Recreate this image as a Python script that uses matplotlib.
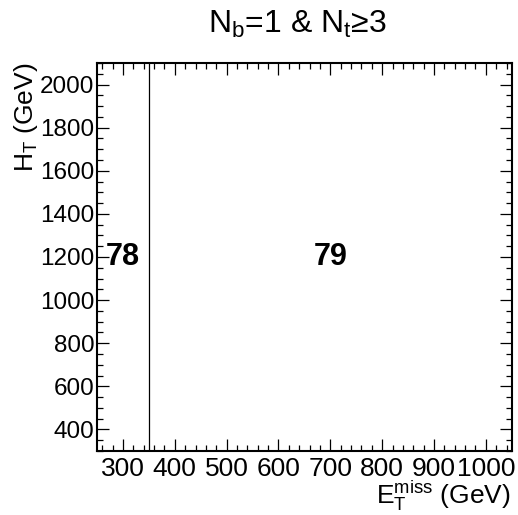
import numpy as np
import matplotlib.pyplot as plt
from matplotlib.ticker import MultipleLocator

# Bin layout for this search region
met_edges = [250, 350, 1050]   # E_T^miss bin edges (GeV)
ht_range = [300, 2100]         # H_T range (GeV)
bin_labels = ['78', '79']

plt.rcParams['font.family'] = ['Liberation Sans', 'DejaVu Sans']
plt.rcParams['mathtext.fontset'] = 'custom'
plt.rcParams['mathtext.rm'] = 'Liberation Sans'
plt.rcParams['mathtext.it'] = 'Liberation Sans:italic'
plt.rcParams['mathtext.bf'] = 'Liberation Sans:bold'


def main():
    fig = plt.figure(figsize=(5.18, 5.15), dpi=100)
    ax = fig.add_axes([0.1873, 0.1243, 0.8007, 0.7534])

    ax.set_xlim(met_edges[0], met_edges[-1])
    ax.set_ylim(ht_range[0], ht_range[1])

    # inner bin boundaries
    for edge in met_edges[1:-1]:
        ax.axvline(edge, color='black', lw=0.9)

    # bin numbers at bin centres
    yc = 0.5 * (ht_range[0] + ht_range[1])
    for lo, hi, lab in zip(met_edges[:-1], met_edges[1:], bin_labels):
        ax.text(0.5 * (lo + hi), yc, lab, ha='center', va='center',
                fontsize=22, fontweight='bold')

    ax.xaxis.set_major_locator(MultipleLocator(100))
    ax.xaxis.set_minor_locator(MultipleLocator(20))
    ax.yaxis.set_major_locator(MultipleLocator(200))
    ax.yaxis.set_minor_locator(MultipleLocator(50))
    ax.tick_params(which='both', direction='in', top=True, right=True,
                   width=0.9)
    ax.tick_params(which='major', length=8.5)
    ax.tick_params(which='minor', length=4.3)
    ax.tick_params(axis='x', pad=4, labelsize=19)
    ax.tick_params(axis='y', pad=2, labelsize=17.5)
    for s in ax.spines.values():
        s.set_linewidth(1.5)

    ax.set_xlabel(r'E$_\mathrm{T}^\mathrm{miss}$ (GeV)', fontsize=19)
    ax.xaxis.set_label_coords(0.998, -0.072)
    ax.xaxis.label.set_horizontalalignment('right')
    ax.set_ylabel(r'H$_\mathrm{T}$ (GeV)', fontsize=19)
    ax.yaxis.set_label_coords(-0.138, 1.0)
    ax.yaxis.label.set_horizontalalignment('right')

    fig.text(0.575, 0.953, r'N$_\mathrm{b}$=1 & N$_\mathrm{t}$≥3',
             ha='center', va='center', fontsize=23)

    fig.savefig('out.png', dpi=100)
    plt.close(fig)


if __name__ == '__main__':
    main()
